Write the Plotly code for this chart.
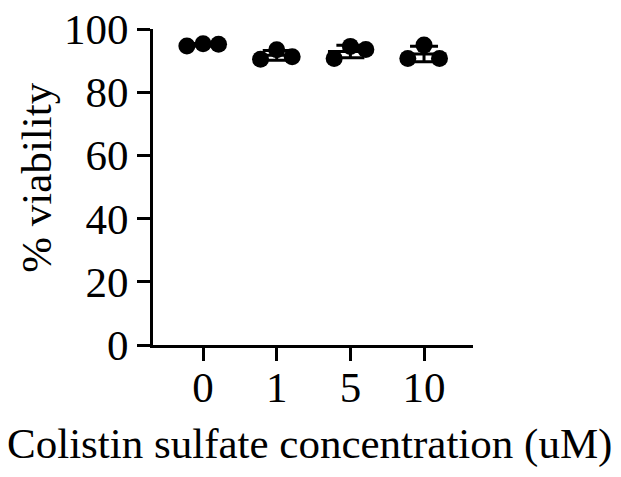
import numpy as np
import plotly.graph_objects as go

# Colistin sulfate treatment groups and replicate viability readings
concentrations = ["0", "1", "5", "10"]
viability_0 = [94.6, 95.3, 95.2]
viability_1 = [90.4, 93.4, 91.2]
viability_5 = [90.7, 94.5, 93.5]
viability_10 = [90.7, 94.9, 90.7]
y_ticks = [0, 20, 40, 60, 80, 100]

groups = [viability_0, viability_1, viability_5, viability_10]
# horizontal spread of the three replicates within each group
spread = [-0.22, 0.0, 0.21]

FONT = "Liberation Serif"
SIZE = 43
positions = list(range(len(concentrations)))
means = [float(np.mean(g)) for g in groups]
sds = [float(np.std(g, ddof=1)) for g in groups]

fig = go.Figure()

# mean line with SD error bars
fig.add_trace(go.Scatter(
    x=positions, y=means, mode="markers",
    marker=dict(symbol="line-ew", size=32, color="black",
                line=dict(color="black", width=3)),
    error_y=dict(type="data", array=sds, visible=True,
                 color="black", thickness=3, width=14),
    showlegend=False, hoverinfo="skip", cliponaxis=False,
))

# individual replicates
xs, ys = [], []
for i, g in enumerate(groups):
    for j, v in enumerate(g):
        xs.append(positions[i] + spread[j])
        ys.append(v)
fig.add_trace(go.Scatter(
    x=xs, y=ys, mode="markers",
    marker=dict(symbol="circle", size=17, color="black"),
    showlegend=False, cliponaxis=False,
))

fig.update_layout(
    width=621, height=477,
    margin=dict(l=153, r=148, t=29, b=132, autoexpand=False),
    paper_bgcolor="white", plot_bgcolor="white",
    font=dict(family=FONT, color="black", size=SIZE),
    xaxis=dict(
        range=[-0.68, 3.665], automargin=False,
        tickmode="array", tickvals=positions, ticktext=concentrations,
        showline=True, linecolor="black", linewidth=3,
        ticks="outside", ticklen=13, tickwidth=3, tickcolor="black",
        showgrid=False, zeroline=False,
        tickfont=dict(family=FONT, size=SIZE),
        ticklabelstandoff=-11,
    ),
    yaxis=dict(
        range=[0, 100], automargin=False,
        tickmode="array", tickvals=y_ticks,
        showline=True, linecolor="black", linewidth=3,
        ticks="outside", ticklen=13, tickwidth=3, tickcolor="black",
        showgrid=False, zeroline=False,
        tickfont=dict(family=FONT, size=SIZE),
    ),
    annotations=[
        dict(text="% viability", textangle=-90, showarrow=False,
             xref="paper", yref="paper", x=-0.365, y=0.53,
             xanchor="center", yanchor="middle",
             font=dict(family=FONT, size=SIZE)),
        dict(text="Colistin sulfate concentration (uM)", showarrow=False,
             xref="paper", yref="paper", x=0.49, y=-0.23,
             xanchor="center", yanchor="top",
             font=dict(family=FONT, size=SIZE)),
    ],
)

fig.write_html("out.html")
